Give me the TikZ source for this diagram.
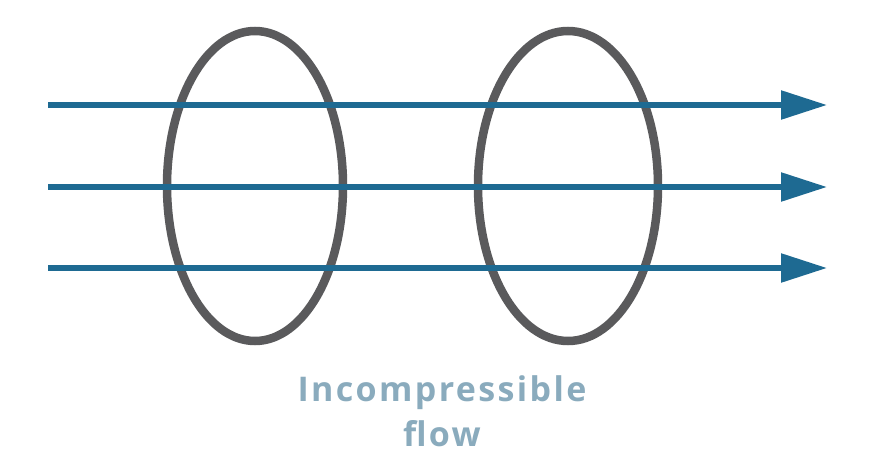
\documentclass[tikz,border=0pt]{standalone}
\usepackage{fontspec}
\setmainfont{Open Sans}
\newfontfamily\labelfont{Open Sans}[LetterSpace=7]
\usetikzlibrary{arrows.meta}
\definecolor{flowblue}{HTML}{1E6A92}
\definecolor{ringgray}{HTML}{5A5A5C}
\definecolor{labelblue}{HTML}{8AABBD}
\tikzset{
  ring/.style={draw=ringgray, line width=8.5pt},
  flowline/.style={draw=flowblue, line width=5.5pt, -{Triangle[length=46pt,width=28pt]}},
  label/.style={text=labelblue, font=\labelfont\bfseries\fontsize{34}{45}\selectfont, align=center, inner sep=0pt}
}
\begin{document}
\begin{tikzpicture}[x=1pt,y=-1pt]
\useasboundingbox (0,0) rectangle (871,458);
\fill[white] (0,0) rectangle (871,458);
\draw[ring] (255,186) ellipse [x radius=88, y radius=155];
\draw[ring] (568,186) ellipse [x radius=90, y radius=155];
\coordinate (s1) at (48,105); \coordinate (e1) at (827,105);
\coordinate (s2) at (48,187); \coordinate (e2) at (827,187);
\coordinate (s3) at (48,268); \coordinate (e3) at (827,268);
\draw[flowline] (s1) -- (e1);
\draw[flowline] (s2) -- (e2);
\draw[flowline] (s3) -- (e3);
\node[label] (lbl) at (442,411) {Incompressible\\flow};
\end{tikzpicture}
\end{document}
